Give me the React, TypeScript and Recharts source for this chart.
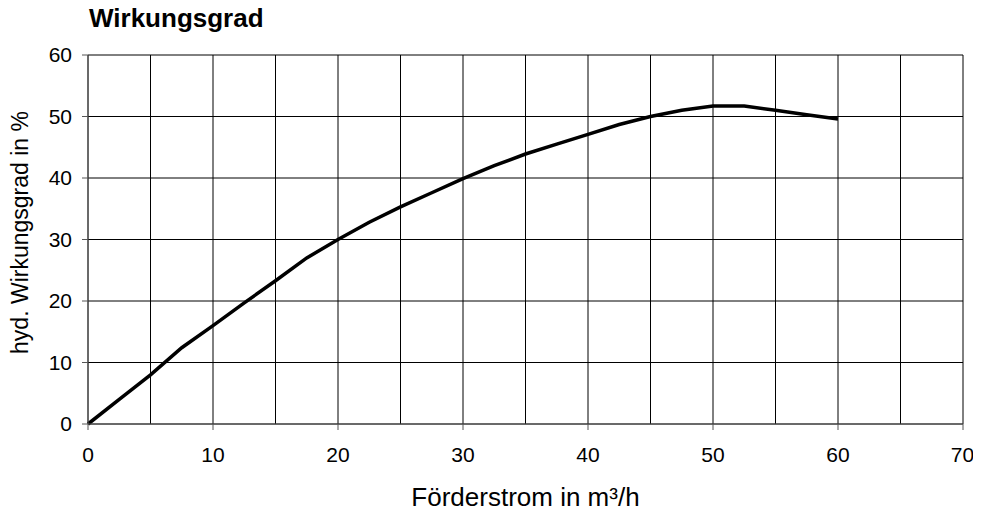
import { LineChart, Line, XAxis, YAxis, CartesianGrid, Label } from 'recharts';

const flow = [0, 2.5, 5, 7.5, 10, 12.5, 15, 17.5, 20, 22.5, 25, 27.5, 30, 32.5, 35, 37.5, 40, 42.5, 45, 47.5, 50, 52.5, 55, 57.5, 60];
const efficiency = [0, 4, 8, 12.4, 16, 19.7, 23.3, 27, 30, 32.8, 35.3, 37.6, 39.9, 42, 43.9, 45.5, 47.1, 48.7, 50, 51, 51.7, 51.7, 51, 50.3, 49.6];

const xTicks = [0, 10, 20, 30, 40, 50, 60, 70];
const xGrid = [0, 5, 10, 15, 20, 25, 30, 35, 40, 45, 50, 55, 60, 65, 70];
const yTicks = [0, 10, 20, 30, 40, 50, 60];

const data = flow.map((q, i) => ({ q, eta: efficiency[i] }));

const font = '"Liberation Sans", Arial, sans-serif';

export default function App() {
  return (
    <div style={{ position: 'relative', width: 965, height: 508, fontFamily: font }}>
      <div
        style={{
          position: 'absolute',
          left: 81,
          top: -3,
          fontSize: 26,
          lineHeight: '26px',
          fontWeight: 'bold',
          color: '#000',
        }}
      >
        Wirkungsgrad
      </div>
      <LineChart width={965} height={508} data={data} margin={{ top: 47, right: 10, bottom: 0, left: 0 }}>
        <CartesianGrid
          stroke="#000"
          strokeWidth={1}
          verticalCoordinatesGenerator={({ offset }: any) =>
            xGrid.map((v) => offset.left + (v / 70) * offset.width)
          }
        />
        <XAxis
          dataKey="q"
          type="number"
          domain={[0, 70]}
          ticks={xTicks}
          height={92}
          tickSize={6}
          tickMargin={17}
          stroke="#555"
          tick={{ fill: '#000', fontSize: 21, fontFamily: font }}
        >
          <Label
            value="Förderstrom in m³/h"
            position="insideBottom"
            offset={10}
            style={{ fontSize: 26, fontFamily: font, fill: '#000' }}
          />
        </XAxis>
        <YAxis
          type="number"
          domain={[0, 60]}
          ticks={yTicks}
          width={80}
          tickSize={6}
          tickMargin={10}
          stroke="#555"
          tick={{ fill: '#000', fontSize: 21, fontFamily: font }}
        >
          <Label
            value="hyd. Wirkungsgrad in %"
            angle={-90}
            position="insideLeft"
            offset={12}
            dy={-7}
            style={{ fontSize: 23, fontFamily: font, fill: '#000', textAnchor: 'middle' }}
          />
        </YAxis>
        <Line
          type="linear"
          dataKey="eta"
          stroke="#000"
          strokeWidth={3.5}
          dot={false}
          isAnimationActive={false}
        />
      </LineChart>
    </div>
  );
}
